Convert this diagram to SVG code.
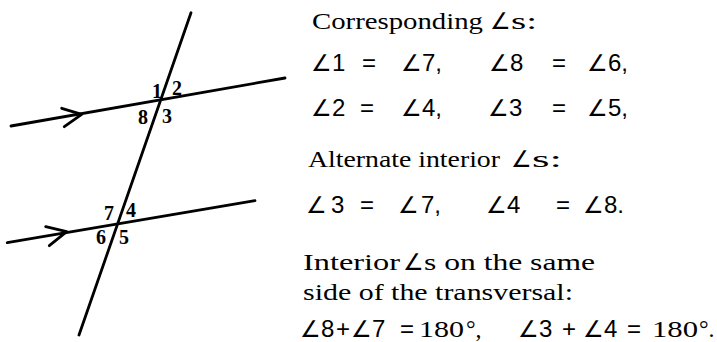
<svg xmlns="http://www.w3.org/2000/svg" width="717" height="342" viewBox="0 0 717 342">
<style>
.ln{stroke:#000;stroke-width:2.8;fill:none;stroke-linecap:round;stroke-linejoin:round}
.lbl{font-family:"Liberation Serif",serif;font-weight:bold;font-size:20px;fill:#000}
.hd{font-family:"Liberation Serif",serif;font-size:24px;fill:#000}
.eq{font-family:"Liberation Sans",sans-serif;font-size:24px;fill:#000}
.ser{font-family:"Liberation Serif",serif;font-size:24px;fill:#000}
.ang{font-family:"DejaVu Sans",sans-serif;font-size:23px}
</style>
<rect width="717" height="342" fill="#fff"/>
<g id="connectors">
<line class="ln" x1="191" y1="12.7" x2="79" y2="335"/>
<line class="ln" x1="11" y1="126" x2="285" y2="78"/>
<line class="ln" x1="7.3" y1="242.7" x2="255" y2="200.7"/>
<path class="ln" d="M61.7,108.3 L81.7,114.3 L64.3,126.7"/>
<path class="ln" d="M45.7,226.7 L66.7,231.7 L49.3,245.7"/>
</g>
<g id="angle-labels">
<text class="lbl" x="152" y="98">1</text>
<text class="lbl" x="172" y="95">2</text>
<text class="lbl" x="138" y="124">8</text>
<text class="lbl" x="162" y="123">3</text>
<text class="lbl" x="104" y="220">7</text>
<text class="lbl" x="126" y="217">4</text>
<text class="lbl" x="96" y="244">6</text>
<text class="lbl" x="119" y="244">5</text>
</g>
<g id="text">
<text class="hd" x="312" y="29" textLength="171" lengthAdjust="spacingAndGlyphs">Corresponding</text>
<text class="eq" x="490" y="29"><tspan class="ang">∠</tspan></text>
<text class="hd" x="511" y="29" textLength="26" lengthAdjust="spacingAndGlyphs">s:</text>

<text class="eq" y="71"><tspan class="ang" x="311">∠</tspan><tspan x="332">1</tspan><tspan x="362">=</tspan><tspan class="ang" x="401">∠</tspan><tspan x="422">7,</tspan><tspan class="ang" x="489">∠</tspan><tspan x="510">8</tspan><tspan x="552">=</tspan><tspan class="ang" x="587">∠</tspan><tspan x="608">6,</tspan></text>

<text class="eq" y="116"><tspan class="ang" x="311">∠</tspan><tspan x="332">2</tspan><tspan x="360">=</tspan><tspan class="ang" x="401">∠</tspan><tspan x="422">4,</tspan><tspan class="ang" x="488">∠</tspan><tspan x="509">3</tspan><tspan x="552">=</tspan><tspan class="ang" x="587">∠</tspan><tspan x="608">5,</tspan></text>

<text class="hd" x="308" y="167" textLength="192" lengthAdjust="spacingAndGlyphs">Alternate interior</text>
<text class="eq" x="511" y="167"><tspan class="ang">∠</tspan></text>
<text class="hd" x="532" y="167" textLength="30" lengthAdjust="spacingAndGlyphs">s:</text>

<text class="eq" y="213"><tspan class="ang" x="306">∠</tspan><tspan x="331">3</tspan><tspan x="360">=</tspan><tspan class="ang" x="398">∠</tspan><tspan x="421">7,</tspan><tspan class="ang" x="486">∠</tspan><tspan x="507">4</tspan><tspan x="556">=</tspan><tspan class="ang" x="583">∠</tspan><tspan x="604">8.</tspan></text>

<text class="hd" x="303" y="270" textLength="97" lengthAdjust="spacingAndGlyphs">Interior</text>
<text class="eq" x="403" y="270"><tspan class="ang">∠</tspan></text>
<text class="hd" x="424" y="270" textLength="171" lengthAdjust="spacingAndGlyphs">s on the same</text>
<text class="hd" x="303" y="300" textLength="270" lengthAdjust="spacingAndGlyphs">side of the transversal:</text>

<text class="eq" y="337"><tspan class="ang" x="300">∠</tspan><tspan x="321">8</tspan><tspan x="336">+</tspan><tspan class="ang" x="351">∠</tspan><tspan x="372">7</tspan><tspan x="400">=</tspan><tspan class="ang" x="518">∠</tspan><tspan x="539">3</tspan><tspan x="562">+</tspan><tspan class="ang" x="583">∠</tspan><tspan x="604">4</tspan><tspan x="627">=</tspan></text>
<text class="ser" x="419" y="337" textLength="45" lengthAdjust="spacingAndGlyphs">180</text>
<text class="ser" x="466" y="337">°,</text>
<text class="ser" x="652" y="337" textLength="46" lengthAdjust="spacingAndGlyphs">180</text>
<text class="ser" x="699" y="337">°.</text>
</g>
</svg>
